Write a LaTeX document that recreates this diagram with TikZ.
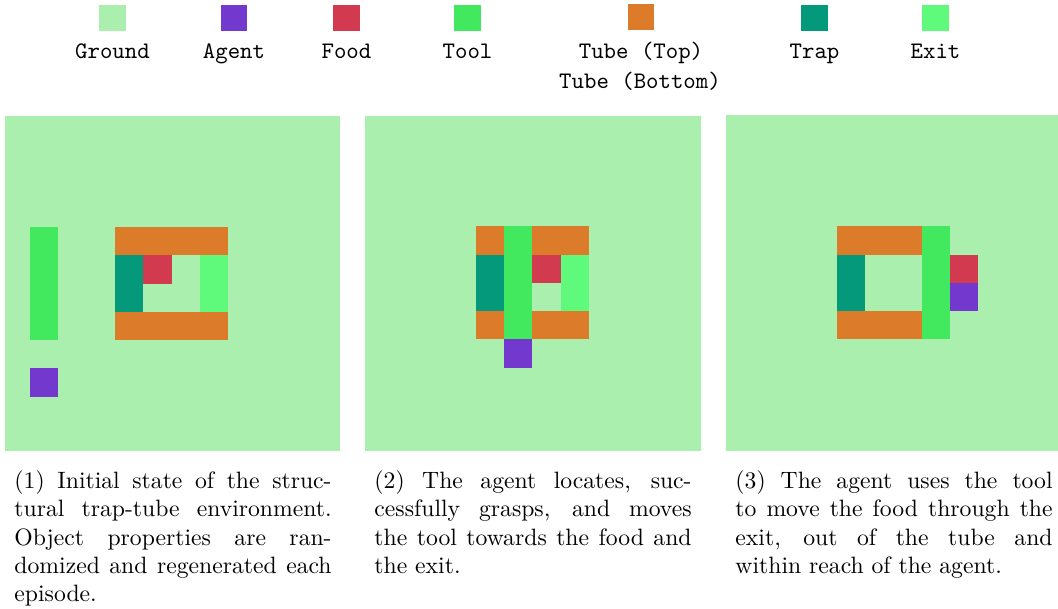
\documentclass[tikz,border=0pt]{standalone}
\usepackage{tikz}
\definecolor{groundc}{HTML}{AAEFAD}
\definecolor{agentc}{HTML}{7339CF}
\definecolor{foodc}{HTML}{D13A4F}
\definecolor{toolc}{HTML}{42E95E}
\definecolor{tubec}{HTML}{DC7B29}
\definecolor{trapc}{HTML}{04997B}
\definecolor{exitc}{HTML}{5FFA7C}
\tikzset{x=0.4225pt,y=-0.4225pt,
 swatch/.style={minimum size=11.4pt,inner sep=0pt,draw=none},
 legend/.style={anchor=base,inner sep=0pt,font=\ttfamily},
 caption/.style={anchor=north west,inner sep=0pt,align=justify,text width=134pt},
 groundtile/.style={fill=groundc},
 agenttile/.style={fill=agentc},
 foodtile/.style={fill=foodc},
 tooltile/.style={fill=toolc},
 tubetile/.style={fill=tubec},
 traptile/.style={fill=trapc},
 exittile/.style={fill=exitc},
 }

\begin{document}
\begin{tikzpicture}
    \useasboundingbox (0,0) rectangle (1058,609);
    % legend
    \node[swatch,fill=groundc] (swground) at (112.5,18) {};
    \node[swatch,fill=agentc] (swagent) at (234,18) {};
    \node[swatch,fill=foodc] (swfood) at (346.5,18) {};
    \node[swatch,fill=toolc] (swtool) at (467.5,18) {};
    \node[swatch,fill=tubec] (swtube) at (641,17) {};
    \node[swatch,fill=trapc] (swtrap) at (814.5,18) {};
    \node[swatch,fill=exitc] (swexit) at (935.5,18) {};
    \node[legend] (lbground) at (112.5,59) {Ground};
    \node[legend] (lbagent) at (234,59) {Agent};
    \node[legend] (lbfood) at (346.5,59) {Food};
    \node[legend] (lbtool) at (467.5,59) {Tool};
    \node[legend] (lbtubetop) at (641,59) {Tube (Top)};
    \node[legend] (lbtubebot) at (640,89) {Tube (Bottom)};
    \node[legend] (lbtrap) at (814.5,59) {Trap};
    \node[legend] (lbexit) at (935.5,59) {Exit};

    % panel 1
    \fill[groundtile] (5,116) rectangle (340,451);
    \begin{scope}[shift={(1.7,113.8)},scale=28.3]
        \fill[tooltile] (1,4) rectangle (2,8);
        \fill[agenttile] (1,9) rectangle (2,10);
        \fill[tubetile] (4,4) rectangle (8,5);
        \fill[traptile] (4,5) rectangle (5,7);
        \fill[foodtile] (5,5) rectangle (6,6);
        \fill[exittile] (7,5) rectangle (8,7);
        \fill[tubetile] (4,7) rectangle (8,8);
    \end{scope}

    % panel 2
    \fill[groundtile] (365,116) rectangle (701,451);
    \begin{scope}[shift={(362.5,113.1)},scale=28.3]
        \fill[tubetile] (4,4) rectangle (8,5);
        \fill[traptile] (4,5) rectangle (5,7);
        \fill[foodtile] (6,5) rectangle (7,6);
        \fill[exittile] (7,5) rectangle (8,7);
        \fill[tubetile] (4,7) rectangle (8,8);
        \fill[tooltile] (5,4) rectangle (6,8);
        \fill[agenttile] (5,8) rectangle (6,9);
    \end{scope}

    % panel 3
    \fill[groundtile] (726,115) rectangle (1058,451);
    \begin{scope}[shift={(723.5,113.1)},scale=28.3]
        \fill[tubetile] (4,4) rectangle (7,5);
        \fill[traptile] (4,5) rectangle (5,7);
        \fill[tubetile] (4,7) rectangle (7,8);
        \fill[tooltile] (7,4) rectangle (8,8);
        \fill[foodtile] (8,5) rectangle (9,6);
        \fill[agenttile] (8,6) rectangle (9,7);
    \end{scope}

    % captions
    \node[caption] (cap1) at (14,470)
        {\hyphenpenalty=10000\exhyphenpenalty=10000
        (1) Initial state of the struc-\linebreak tural trap-tube environment.\linebreak
        Object properties are ran-\linebreak domized and regenerated each\linebreak episode.};
    \node[caption] (cap2) at (374,470)
        {\hyphenpenalty=10000\exhyphenpenalty=10000
        (2) The agent locates, suc-\linebreak cessfully grasps, and moves\linebreak
        the tool towards the food and\linebreak the exit.};
    \node[caption] (cap3) at (735,470)
        {\hyphenpenalty=10000\exhyphenpenalty=10000
        (3) The agent uses the tool\linebreak to move the food through the\linebreak
        exit, out of the tube and\linebreak within reach of the agent.};
\end{tikzpicture}
\end{document}
